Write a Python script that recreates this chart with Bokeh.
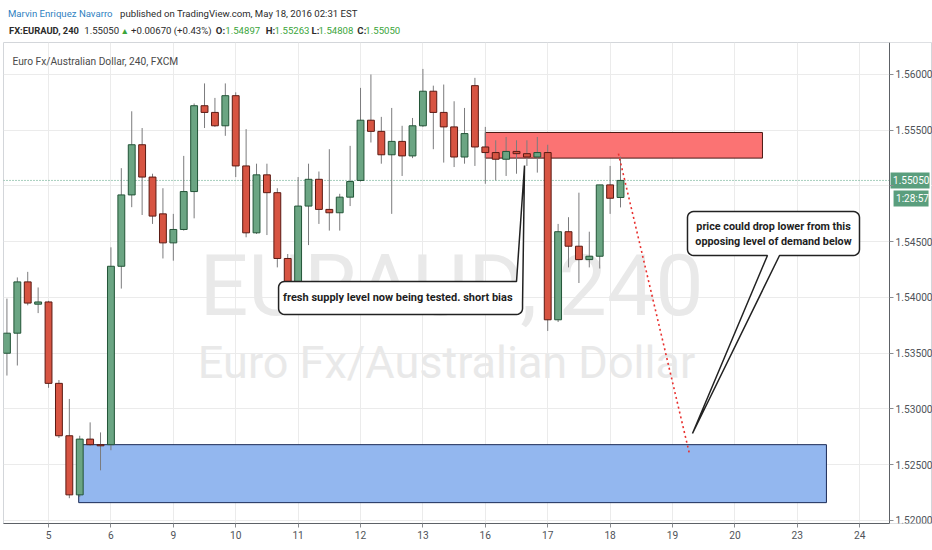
import math
from bokeh.plotting import figure
from bokeh.layouts import column
from bokeh.models import (ColumnDataSource, Range1d, FixedTicker, LinearAxis,
                          PrintfTickFormatter)
from bokeh.core.properties import value
from bokeh.embed import file_html
from bokeh.resources import INLINE

FONT = "Roboto"

# ---------------- data (4h candles, EURAUD) ----------------
opens = [1.5350, 1.5368, 1.5414, 1.5394, 1.5396, 1.5323, 1.5276, 1.5223, 1.5273, 1.5268,
         1.5268, 1.5428, 1.5492, 1.5537, 1.5508, 1.5475, 1.5449, 1.5461, 1.5495, 1.5572,
         1.5566, 1.5554, 1.5581, 1.5518, 1.5458, 1.5510, 1.5494, 1.5435, 1.5413, 1.5482,
         1.5506, 1.5479, 1.5476, 1.5490, 1.5505, 1.5559, 1.5549, 1.5528, 1.5540, 1.5527,
         1.5554, 1.5585, 1.5566, 1.5553, 1.5526, 1.5590, 1.5535, 1.5530, 1.5524, 1.5531,
         1.5529, 1.5526, 1.5530, 1.5380, 1.5459, 1.5446, 1.5434, 1.5437, 1.5501, 1.54897]
closes = [1.5368, 1.5414, 1.5395, 1.5396, 1.5323, 1.5276, 1.5223, 1.5273, 1.5268, 1.5267,
          1.5428, 1.5492, 1.5537, 1.5508, 1.5473, 1.5449, 1.5461, 1.5495, 1.5572, 1.5566,
          1.5554, 1.5581, 1.5518, 1.5458, 1.5510, 1.5494, 1.5435, 1.5413, 1.5482, 1.5506,
          1.5479, 1.5476, 1.5490, 1.5504, 1.5559, 1.5549, 1.5528, 1.5540, 1.5527, 1.5554,
          1.5585, 1.5566, 1.5553, 1.5526, 1.5547, 1.5535, 1.5530, 1.5524, 1.5531, 1.5529,
          1.5526, 1.5530, 1.5380, 1.5459, 1.5446, 1.5434, 1.5437, 1.5501, 1.5489, 1.55050]
highs = [1.5399, 1.5418, 1.5423, 1.5409, 1.5397, 1.5326, 1.5309, 1.5276, 1.5288, 1.5279,
         1.5445, 1.5516, 1.5567, 1.5552, 1.5511, 1.5498, 1.5475, 1.5527, 1.5574, 1.5592,
         1.5579, 1.5592, 1.5584, 1.5551, 1.5520, 1.5520, 1.5498, 1.5439, 1.5508, 1.5520,
         1.5513, 1.5533, 1.5493, 1.5536, 1.5588, 1.5600, 1.5562, 1.5570, 1.5554, 1.5561,
         1.5605, 1.5590, 1.5591, 1.5576, 1.5570, 1.5597, 1.5553, 1.5541, 1.5544, 1.5541,
         1.5541, 1.5544, 1.5537, 1.5466, 1.5472, 1.5494, 1.5459, 1.5501, 1.5518, 1.55263]
lows = [1.5330, 1.5339, 1.5393, 1.5386, 1.5319, 1.5274, 1.5220, 1.5221, 1.5267, 1.5245,
        1.5263, 1.5408, 1.5481, 1.5474, 1.5466, 1.5435, 1.5433, 1.5460, 1.5471, 1.5552,
        1.5553, 1.5545, 1.5508, 1.5454, 1.5457, 1.5456, 1.5427, 1.5411, 1.5406, 1.5447,
        1.5466, 1.5460, 1.5460, 1.5482, 1.5504, 1.5539, 1.5520, 1.5475, 1.5509, 1.5525,
        1.5553, 1.5533, 1.5521, 1.5517, 1.5520, 1.5518, 1.5502, 1.5505, 1.5509, 1.5511,
        1.5518, 1.5512, 1.5370, 1.5378, 1.5427, 1.5413, 1.5427, 1.5426, 1.5475, 1.54808]

day_tick_bars = [4, 10, 16, 22, 28, 34, 40, 46, 52, 58, 64, 70, 76, 82]
day_tick_labels = ["5", "6", "9", "10", "11", "12", "13", "16", "17", "18", "19", "20", "23", "24"]
price_ticks = [1.520, 1.525, 1.530, 1.535, 1.540, 1.545, 1.550, 1.555, 1.560]

supply_zone = dict(left=[46.0], right=[72.65], bottom=[1.5525], top=[1.5548])
demand_zone = dict(left=[6.9], right=[78.8], bottom=[1.5216], top=[1.5268])
projection_x = [58.8, 65.6]
projection_y = [1.5529, 1.5261]
last_price = 1.55050
countdown_level = 1.54888
countdown = "1:28:57"

header_author = "Marvin Enriquez Navarro"
header_pub = "published on TradingView.com, May 18, 2016 02:31 EST"
symbol = "FX:EURAUD, 240"
last_text = "1.55050"
change_text = "+0.00670 (+0.43%)"
ohlc_keys = ["O:", "H:", "L:", "C:"]
ohlc_vals = ["1.54897", "1.55263", "1.54808", "1.55050"]
pane_title = "Euro Fx/Australian Dollar, 240, FXCM"
note1 = "fresh supply level now being tested. short bias"
note2 = ["price could drop lower from this", "opposing level of demand below"]

# ---------------- geometry ----------------
W = 932
HDR_H = 42
MAIN_H = 508
X0, X1 = -0.33, 89.0          # pane spans the price scale column too
AXIS_X = 84.87                # where the price scale sits
Y0, Y1 = 1.51973, 1.56287
BL, BR, BT, BB = 3, 0, 0, 27
kx = (W - BL - BR) / (X1 - X0)
ky = (MAIN_H - BT - BB) / (Y1 - Y0)

# ---------------- header figure ----------------
hdr = figure(width=W, height=HDR_H, x_range=Range1d(0, W), y_range=Range1d(HDR_H, 0),
             output_backend="svg", toolbar_location=None,
             min_border_left=0, min_border_right=0, min_border_top=0, min_border_bottom=0)
hdr.axis.visible = False
hdr.grid.visible = False
hdr.outline_line_color = None
hdr.background_fill_color = "white"
hdr.border_fill_color = "white"

DARK = "#2b2b2b"
GREEN = "#3ba53b"
HS = "9.6px"
L1, L2 = 12.5, 30.0
hdr_items = [
    (4.5, L1, header_author, "#2f7fc1", "normal", HS),
    (117.0, L1, header_pub, DARK, "normal", HS),
    (5.5, L2, symbol, DARK, "bold", "9.4px"),
    (81.0, L2, last_text, DARK, "normal", HS),
    (117.5, L2, "\u25B2", GREEN, "normal", "8.6px"),
    (128.0, L2, change_text, DARK, "normal", HS),
]
for kx_, key, vx, val in zip([213.0, 263.0, 309.0, 355.0], ohlc_keys,
                             [222.5, 272.0, 316.0, 363.0], ohlc_vals):
    hdr_items.append((kx_, L2, key, DARK, "bold", HS))
    hdr_items.append((vx, L2, val, GREEN, "normal", HS))
for x, y, t, c, st, sz in hdr_items:
    hdr.text(x=[x], y=[y], text=[t], text_color=c, text_font=value(FONT),
             text_font_style=st, text_font_size=sz, text_baseline="middle", text_align="left")

# ---------------- main figure ----------------
p = figure(width=W, height=MAIN_H, x_range=Range1d(X0, X1), y_range=Range1d(Y0, Y1),
           output_backend="svg", toolbar_location=None, y_axis_location=None,
           min_border_left=BL, min_border_right=BR, min_border_top=BT, min_border_bottom=BB)
p.background_fill_color = "white"
p.border_fill_color = "white"
p.outline_line_color = "#d3d6da"

GRID = "#ebebeb"
p.xgrid.grid_line_color = GRID
p.ygrid.grid_line_color = GRID
p.xgrid.ticker = FixedTicker(ticks=day_tick_bars)
p.ygrid.ticker = FixedTicker(ticks=price_ticks)

xa = p.xaxis[0]
xa.ticker = FixedTicker(ticks=day_tick_bars)
xa.major_label_overrides = {b: l for b, l in zip(day_tick_bars, day_tick_labels)}
xa.bounds = (X0, AXIS_X)

ya = LinearAxis(fixed_location=AXIS_X, ticker=FixedTicker(ticks=price_ticks),
                formatter=PrintfTickFormatter(format="%.5f"),
                major_label_overrides={1.55: ""})
p.add_layout(ya, "right")
for ax in (xa, ya):
    ax.axis_line_color = "#5d6166"
    ax.major_tick_line_color = "#8a8d91"
    ax.major_tick_out = 4
    ax.major_tick_in = 0
    ax.minor_tick_line_color = None
    ax.major_label_text_font = FONT
    ax.major_label_text_font_size = "10.2px"
    ax.major_label_text_color = "#4f5359"
xa.major_label_standoff = 3
ya.major_label_standoff = 2

# keep the price-scale column clean of grid lines
p.quad(left=[AXIS_X], right=[X1 - 0.15], bottom=[Y0], top=[Y1], fill_color="white",
       line_color=None)

# watermark
p.text(x=[42.75], y=[1.54108], text=["EURAUD, 240"], text_align="center",
       text_baseline="alphabetic", text_font=value(FONT), text_font_size="86px",
       text_color="#e9e9e9")
p.text(x=[42.27], y=[1.53417], text=["Euro Fx/Australian Dollar"], text_align="center",
       text_baseline="alphabetic", text_font=value(FONT), text_font_size="45px",
       text_color="#e9e9e9")

# zones
p.quad(source=ColumnDataSource(supply_zone), left="left", right="right", bottom="bottom",
       top="top", fill_color="#fb7373", line_color="#4a1712", line_width=1)
p.quad(source=ColumnDataSource(demand_zone), left="left", right="right", bottom="bottom",
       top="top", fill_color="#93b7ef", line_color="#1a2a55", line_width=1)

# current price line
p.segment(x0=[X0], y0=[last_price], x1=[AXIS_X], y1=[last_price], line_color="#4f9e7b",
          line_dash="1 2", line_width=1)

# candles
UP_F, DN_F, UP_L, DN_L = "#6ba583", "#d75442", "#225437", "#5b1a13"
up = [c >= o for o, c in zip(opens, closes)]
src = ColumnDataSource(dict(
    x=list(range(len(opens))), o=opens, h=highs, l=lows, c=closes,
    top=[max(o, c) for o, c in zip(opens, closes)],
    bottom=[min(o, c) for o, c in zip(opens, closes)],
    fill=[UP_F if u else DN_F for u in up],
    line=[UP_L if u else DN_L for u in up]))
p.segment(x0="x", y0="l", x1="x", y1="h", source=src, line_color="#7b7b7d", line_width=1)
p.vbar(x="x", width=0.66, top="top", bottom="bottom", source=src,
       fill_color="fill", line_color="line", line_width=1)

# projection
p.line(projection_x, projection_y, line_color="#e8312f", line_width=1.6, line_dash="2 3")


# callouts
def callout(x0, x1, y0, y1, wedge, where, r=6):
    rx, ry = r / kx, r / ky
    xs, ys = [], []

    def arc(cx, cy, a0, a1, n=6):
        for k in range(n + 1):
            a = math.radians(a0 + (a1 - a0) * k / n)
            xs.append(cx + rx * math.cos(a))
            ys.append(cy + ry * math.sin(a))

    arc(x0 + rx, y1 - ry, 180, 90)
    if where == "top-right":
        ax_, tx, ty, by = wedge
        xs.extend([ax_, tx, x1])
        ys.extend([y1, ty, by])
    else:
        arc(x1 - rx, y1 - ry, 90, 0)
    arc(x1 - rx, y0 + ry, 0, -90)
    if where == "bottom":
        bxr, tx, ty, bxl = wedge
        xs.extend([bxr, tx, bxl])
        ys.extend([y0, ty, y0])
    arc(x0 + rx, y0 + ry, -90, -180)
    return xs, ys


c1x, c1y = callout(26.12, 49.58, 1.53848, 1.54144, (49.0, 49.77, 1.55184, 1.53946), "top-right")
c2x, c2y = callout(65.44, 81.98, 1.54377, 1.54771, (74.29, 65.92, 1.5278, 73.13), "bottom")
for xs, ys in ((c1x, c1y), (c2x, c2y)):
    p.patch(xs, ys, fill_color="white", line_color="#222222", line_width=1.5)

p.text(x=[26.55], y=[1.53996], text=[note1], text_align="left", text_baseline="middle",
       text_font=value(FONT), text_font_size="11px", text_font_style="bold",
       text_color="#1e1e1e")
p.text(x=[73.71, 73.71], y=[1.54637, 1.54502], text=note2, text_align="center",
       text_baseline="middle", text_font=value(FONT), text_font_size="10.8px",
       text_font_style="bold", text_color="#1e1e1e")

# pane title
p.text(x=[0.54], y=[1.56117], text=[pane_title], text_font=value(FONT),
       text_font_size="10.2px", text_color="#4a4a4a", text_baseline="middle")

# price tags on the price scale
PL = "#5a9e7d"
tag_levels = [last_price, countdown_level]
tag_texts = [last_text, countdown]
tag_w = [39, 35]
tag_left_px = [1, 4]
p.rect(x=[AXIS_X + (lp + w / 2) / kx for lp, w in zip(tag_left_px, tag_w)], y=tag_levels,
       width=tag_w, height=16, width_units="screen", height_units="screen",
       fill_color=PL, line_color=None)
p.text(x=[AXIS_X + (lp + 2.5) / kx for lp in tag_left_px], y=tag_levels, text=tag_texts,
       text_font=value(FONT), text_font_size="10px", text_color="white",
       text_baseline="middle", text_align="left")

layout = column(hdr, p, spacing=0)
open("out.html", "w").write(file_html(layout, INLINE))
